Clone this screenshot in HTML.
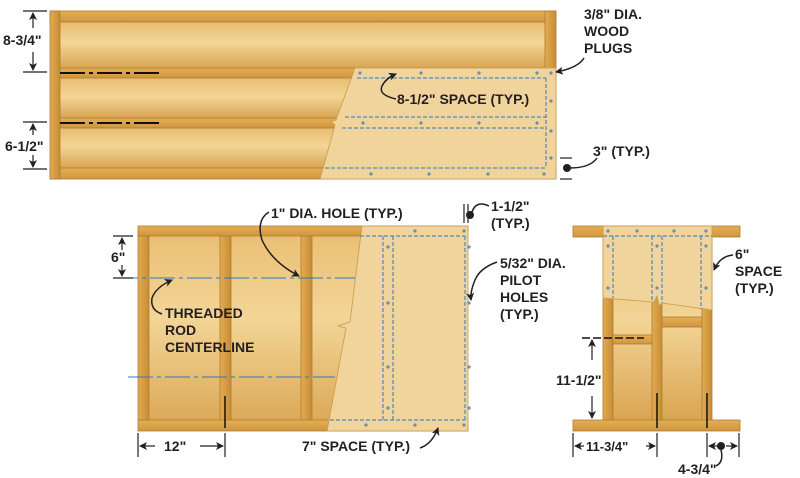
<!DOCTYPE html>
<html><head><meta charset="utf-8"><style>
html,body{margin:0;padding:0;background:#fff;}
svg{display:block;}
text{font-family:"Liberation Sans",Arial,sans-serif;font-weight:bold;fill:#231f20;font-size:14px;}
</style></head><body>
<svg width="800" height="478" viewBox="0 0 800 478" xmlns="http://www.w3.org/2000/svg">
<defs>
<linearGradient id="board" x1="0" y1="0" x2="0" y2="1">
<stop offset="0" stop-color="#e9bd70"/><stop offset="0.45" stop-color="#f3d597"/><stop offset="1" stop-color="#d9a552"/>
</linearGradient>
<linearGradient id="rail" x1="0" y1="0" x2="0" y2="1">
<stop offset="0" stop-color="#e6ae54"/><stop offset="1" stop-color="#cf9640"/>
</linearGradient>
<linearGradient id="stile" x1="0" y1="0" x2="1" y2="0">
<stop offset="0" stop-color="#e4ab52"/><stop offset="1" stop-color="#c78d36"/>
</linearGradient>
<marker id="ah" markerWidth="8" markerHeight="8" refX="7" refY="4" orient="auto" markerUnits="userSpaceOnUse"><path d="M0,0 L8,4 L0,8 L2,4 Z" fill="#231f20"/></marker>
</defs>

<!-- ========== TOP PANEL ========== -->
<rect x="50" y="11" width="506" height="168" fill="#c89440"/>
<rect x="60" y="22" width="485" height="46" fill="url(#board)"/>
<rect x="60" y="78" width="485" height="40" fill="url(#board)"/>
<rect x="60" y="128" width="485" height="40" fill="url(#board)"/>
<rect x="50" y="11" width="506" height="11" fill="url(#rail)" stroke="#b07c30" stroke-width="0.8"/>
<rect x="50" y="168" width="506" height="11" fill="url(#rail)" stroke="#b07c30" stroke-width="0.8"/>
<rect x="60" y="68" width="485" height="10" fill="url(#rail)" stroke="#b07c30" stroke-width="0.8"/>
<rect x="60" y="118" width="485" height="10" fill="url(#rail)" stroke="#b07c30" stroke-width="0.8"/>
<rect x="50" y="11" width="10" height="168" fill="url(#stile)" stroke="#b07c30" stroke-width="0.8"/>
<rect x="545" y="11" width="11" height="168" fill="url(#stile)" stroke="#b07c30" stroke-width="0.8"/>
<path d="M355,68 L556,68 L556,179 L320,179 L335,125 L331,122 L336,120 Z" fill="#f0d49c" stroke="#c99a4c" stroke-width="0.8"/>
<g stroke="#2b78c9" stroke-width="1" stroke-dasharray="4,2" fill="none">
<line x1="357" y1="78" x2="546" y2="78"/><line x1="345" y1="117" x2="546" y2="117"/>
<line x1="342" y1="128" x2="546" y2="128"/><line x1="325" y1="168" x2="546" y2="168"/>
<line x1="546" y1="78" x2="546" y2="168"/>
</g>
<g fill="#6a8fae">
<circle cx="360" cy="73" r="1.6"/><circle cx="421" cy="73" r="1.6"/><circle cx="479" cy="73" r="1.6"/><circle cx="537" cy="73" r="1.6"/><circle cx="551" cy="73" r="1.6"/>
<circle cx="551" cy="101" r="1.6"/><circle cx="551" cy="131" r="1.6"/><circle cx="551" cy="158" r="1.6"/>
<circle cx="363" cy="123" r="1.6"/><circle cx="421" cy="123" r="1.6"/><circle cx="479" cy="123" r="1.6"/><circle cx="537" cy="123" r="1.6"/>
<circle cx="371" cy="174" r="1.6"/><circle cx="429" cy="174" r="1.6"/><circle cx="488" cy="174" r="1.6"/><circle cx="544" cy="174" r="1.6"/>
</g>
<g stroke="#111" stroke-width="2" stroke-dasharray="25,4,4,4">
<line x1="60" y1="73" x2="160" y2="73"/><line x1="60" y1="123" x2="160" y2="123"/>
</g>
<g stroke="#231f20" stroke-width="1.2" fill="none">
<line x1="23" y1="11" x2="47" y2="11"/><line x1="23" y1="72" x2="47" y2="72"/>
<line x1="33" y1="28" x2="33" y2="13" marker-end="url(#ah)"/>
<line x1="33" y1="52" x2="33" y2="70" marker-end="url(#ah)"/>
<line x1="23" y1="122" x2="47" y2="122"/><line x1="23" y1="169" x2="47" y2="169"/>
<line x1="33" y1="135" x2="33" y2="124" marker-end="url(#ah)"/>
<line x1="33" y1="155" x2="33" y2="167" marker-end="url(#ah)"/>
<line x1="560" y1="158" x2="572" y2="158"/><line x1="560" y1="179" x2="572" y2="179"/>
</g>
<text x="3" y="45">8-3/4"</text>
<text x="5" y="151">6-1/2"</text>
<text x="584" y="19">3/8" DIA.</text>
<text x="584" y="36">WOOD</text>
<text x="584" y="53">PLUGS</text>
<text x="593" y="156">3" (TYP.)</text>
<text x="397" y="104">8-1/2" SPACE (TYP.)</text>
<g stroke="#231f20" stroke-width="1.5" fill="none">
<path d="M584,58 Q578,68 556,72" marker-end="url(#ah)"/>
<path d="M396,99 Q378,95 382,86 Q386,78 396,74" marker-end="url(#ah)"/>
<path d="M597,158 Q590,168 570,168"/>
</g>
<circle cx="567" cy="168" r="4" fill="#231f20"/>

<!-- ========== BOTTOM LEFT PANEL ========== -->
<rect x="138" y="226" width="330" height="205" fill="url(#board)"/>
<rect x="138" y="226" width="330" height="10" fill="url(#rail)" stroke="#b07c30" stroke-width="0.8"/>
<rect x="138" y="420" width="330" height="11" fill="url(#rail)" stroke="#b07c30" stroke-width="0.8"/>
<rect x="138" y="236" width="11" height="184" fill="url(#stile)" stroke="#b07c30" stroke-width="0.8"/>
<rect x="220" y="236" width="11" height="184" fill="url(#stile)" stroke="#b07c30" stroke-width="0.8"/>
<rect x="301" y="236" width="11" height="184" fill="url(#stile)" stroke="#b07c30" stroke-width="0.8"/>
<path d="M362,226 L468,226 L468,431 L327,431 L346,328 L338,326 L350,322 Z" fill="#f0d49c" stroke="#c99a4c" stroke-width="0.8"/>
<g stroke="#2b78c9" stroke-width="1" stroke-dasharray="4,2" fill="none">
<line x1="360" y1="236" x2="465" y2="236"/><line x1="330" y1="420" x2="465" y2="420"/>
<line x1="383" y1="236" x2="383" y2="420"/><line x1="393" y1="236" x2="393" y2="420"/><line x1="465" y1="236" x2="465" y2="420"/>
</g>
<g stroke="#2b78c9" stroke-width="1" stroke-dasharray="25,4,4,4">
<line x1="113" y1="278" x2="355" y2="278"/><line x1="128" y1="377" x2="335" y2="377"/>
</g>
<g fill="#6a8fae">
<circle cx="415" cy="231" r="1.6"/><circle cx="464" cy="231" r="1.6"/>
<circle cx="388" cy="247" r="1.6"/><circle cx="469" cy="247" r="1.6"/>
<circle cx="388" cy="303" r="1.6"/><circle cx="469" cy="303" r="1.6"/>
<circle cx="388" cy="367" r="1.6"/><circle cx="469" cy="367" r="1.6"/>
<circle cx="388" cy="408" r="1.6"/><circle cx="469" cy="408" r="1.6"/>
<circle cx="366" cy="425" r="1.6"/><circle cx="415" cy="425" r="1.6"/><circle cx="464" cy="425" r="1.6"/>
</g>
<g stroke="#111" stroke-width="1.5"><line x1="225" y1="396" x2="225" y2="428"/></g>
<g stroke="#231f20" stroke-width="1.2" fill="none">
<line x1="113" y1="236" x2="133" y2="236"/><line x1="113" y1="278" x2="133" y2="278"/>
<line x1="122" y1="250" x2="122" y2="238" marker-end="url(#ah)"/>
<line x1="122" y1="265" x2="122" y2="276" marker-end="url(#ah)"/>
<line x1="138" y1="433" x2="138" y2="457"/><line x1="225" y1="433" x2="225" y2="457"/>
<line x1="155" y1="446" x2="140" y2="446" marker-end="url(#ah)"/>
<line x1="200" y1="446" x2="223" y2="446" marker-end="url(#ah)"/>
<line x1="464" y1="204" x2="464" y2="223"/><line x1="468" y1="204" x2="468" y2="223"/>
<line x1="739" y1="433" x2="739" y2="457"/>
</g>
<text x="111" y="262">6"</text>
<text x="164" y="451">12"</text>
<text x="165" y="318">THREADED</text>
<text x="165" y="335">ROD</text>
<text x="165" y="352">CENTERLINE</text>
<text x="271" y="218">1" DIA. HOLE (TYP.)</text>
<text x="302" y="451">7" SPACE (TYP.)</text>
<text x="491" y="211">1-1/2"</text>
<text x="491" y="228">(TYP.)</text>
<text x="500" y="268">5/32" DIA.</text>
<text x="500" y="285">PILOT</text>
<text x="500" y="302">HOLES</text>
<text x="500" y="319">(TYP.)</text>
<g stroke="#231f20" stroke-width="1.5" fill="none">
<path d="M269,212 Q256,220 262,240 Q272,262 299,276" marker-end="url(#ah)"/>
<path d="M162,314 Q150,310 152,298 Q156,287 172,280" marker-end="url(#ah)"/>
<path d="M420,448 Q432,444 438,428" marker-end="url(#ah)"/>
<path d="M489,206 Q476,200 472,212"/>
<path d="M497,262 Q480,268 475,280 Q470,292 471,300" marker-end="url(#ah)"/>
</g>
<circle cx="470" cy="215" r="4" fill="#231f20"/>

<!-- ========== RIGHT PANEL ========== -->
<rect x="603" y="237" width="109" height="183" fill="url(#board)"/>
<rect x="603" y="237" width="10" height="183" fill="url(#stile)" stroke="#b07c30" stroke-width="0.8"/>
<rect x="652" y="237" width="10" height="183" fill="url(#stile)" stroke="#b07c30" stroke-width="0.8"/>
<rect x="702" y="237" width="10" height="183" fill="url(#stile)" stroke="#b07c30" stroke-width="0.8"/>
<rect x="613" y="335" width="39" height="9" fill="url(#rail)" stroke="#b07c30" stroke-width="0.8"/>
<rect x="662" y="317" width="40" height="10" fill="url(#rail)" stroke="#b07c30" stroke-width="0.8"/>
<rect x="573" y="226" width="167" height="11" fill="url(#rail)" stroke="#b07c30" stroke-width="0.8"/>
<rect x="573" y="420" width="167" height="11" fill="url(#rail)" stroke="#b07c30" stroke-width="0.8"/>
<path d="M603,226 L712,226 L712,310 L662,303 L659,306 L657,296 L654,302 L603,298 Z" fill="#f0d49c" stroke="#c99a4c" stroke-width="0.8"/>
<g stroke="#2b78c9" stroke-width="1" stroke-dasharray="4,2" fill="none">
<line x1="603" y1="236" x2="712" y2="236"/>
<line x1="613" y1="236" x2="613" y2="298"/><line x1="652" y1="236" x2="652" y2="302"/>
<line x1="662" y1="236" x2="662" y2="303"/><line x1="701" y1="236" x2="701" y2="309"/>
</g>
<g fill="#6a8fae">
<circle cx="608" cy="231" r="1.6"/><circle cx="637" cy="231" r="1.6"/><circle cx="674" cy="231" r="1.6"/><circle cx="706" cy="231" r="1.6"/>
<circle cx="608" cy="246" r="1.6"/><circle cx="657" cy="246" r="1.6"/><circle cx="706" cy="246" r="1.6"/>
<circle cx="608" cy="288" r="1.6"/><circle cx="657" cy="288" r="1.6"/><circle cx="706" cy="288" r="1.6"/>
</g>
<g stroke="#111" stroke-width="1.5">
<line x1="582" y1="338" x2="644" y2="338" stroke-dasharray="8,3"/>
<line x1="657" y1="393" x2="657" y2="428"/><line x1="707" y1="393" x2="707" y2="428"/>
</g>
<g stroke="#231f20" stroke-width="1.2" fill="none">
<line x1="592" y1="360" x2="592" y2="340" marker-end="url(#ah)"/>
<line x1="592" y1="396" x2="592" y2="418" marker-end="url(#ah)"/>
<line x1="573" y1="433" x2="573" y2="457"/><line x1="657" y1="433" x2="657" y2="457"/>
<line x1="707" y1="433" x2="707" y2="457"/>
<line x1="584" y1="446" x2="575" y2="446" marker-end="url(#ah)"/>
<line x1="646" y1="446" x2="655" y2="446" marker-end="url(#ah)"/>
<line x1="718" y1="446" x2="709" y2="446" marker-end="url(#ah)"/>
<line x1="726" y1="446" x2="737" y2="446" marker-end="url(#ah)"/>
</g>
<circle cx="721" cy="446" r="4" fill="#231f20"/>
<g stroke="#231f20" stroke-width="1.5" fill="none">
<path d="M721,450 Q724,462 716,466"/>
<path d="M733,255 Q720,256 714,270" marker-end="url(#ah)"/>
</g>
<text x="556" y="385">11-1/2"</text>
<text x="586" y="451" style="font-size:13px">11-3/4"</text>
<text x="678" y="474">4-3/4"</text>
<text x="735" y="259">6"</text>
<text x="735" y="276">SPACE</text>
<text x="735" y="293">(TYP.)</text>
</svg>
</body></html>
